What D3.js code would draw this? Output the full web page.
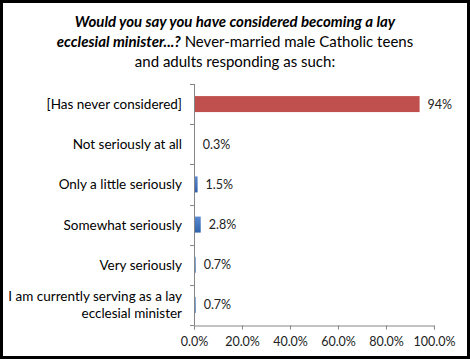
<!DOCTYPE html>
<html><head><meta charset="utf-8">
<script src="https://cdn.jsdelivr.net/npm/d3@7"></script>
<style>body{margin:0;background:#fff}svg{display:block}</style>
</head><body><svg id="c" width="470" height="360"></svg>
<script>
const categories = ["[Has never considered]","Not seriously at all","Only a little seriously","Somewhat seriously","Very seriously","I am currently serving as a lay|ecclesial minister"];
const values = [94, 0.3, 1.5, 2.8, 0.7, 0.7];
const valueLabels = ["94%","0.3%","1.5%","2.8%","0.7%","0.7%"];
const tickValues = [0,20,40,60,80,100];
const colors = ["#C0504D","#3F73BA","#3F73BA","#3F73BA","#3F73BA","#3F73BA"];

const svg = d3.select("#c");
const font = "Lato, 'Open Sans', sans-serif";
svg.append("rect").attr("x",1.5).attr("y",1.5).attr("width",467).attr("height",356)
  .attr("fill","#fff").attr("stroke","#000").attr("stroke-width",3);

const title = svg.append("text").attr("font-family",font).attr("font-size",15).attr("text-anchor","middle").attr("fill","#000");
title.append("tspan").attr("x",235).attr("y",27).attr("font-weight","bold").attr("font-style","italic").text("Would you say you have considered becoming a lay");
const t2 = title.append("tspan").attr("x",235).attr("y",47);
t2.append("tspan").attr("font-weight","bold").attr("font-style","italic").text("ecclesial minister...?");
t2.append("tspan").text(" Never-married male Catholic teens");
title.append("tspan").attr("x",235).attr("y",67).text("and adults responding as such:");

const x = d3.scaleLinear().domain([0,100]).range([194,434]);
const y = d3.scaleBand().domain(categories).range([84,325]).paddingInner(0.6).paddingOuter(0.3);
const band = d3.scaleBand().domain(categories).range([84,325]);

const grad = svg.append("defs").append("linearGradient").attr("id","bg").attr("x1",0).attr("x2",0).attr("y1",0).attr("y2",1);
grad.append("stop").attr("offset","0%").attr("stop-color","#5A8AD0");
grad.append("stop").attr("offset","100%").attr("stop-color","#2F62AC");

svg.selectAll("rect.bar").data(values).enter().append("rect").attr("class","bar")
  .attr("x",x(0)).attr("y",(d,i)=>band(categories[i])+band.bandwidth()/2-8)
  .attr("width",d=>x(d)-x(0)).attr("height",16)
  .attr("fill",(d,i)=>i===0?colors[0]:"url(#bg)");

svg.selectAll("text.val").data(values).enter().append("text").attr("class","val")
  .attr("x",d=>x(d)+8).attr("y",(d,i)=>band(categories[i])+band.bandwidth()/2+4.5)
  .attr("font-family",font).attr("font-size",12.5).attr("fill","#222")
  .text((d,i)=>valueLabels[i]);

// y axis
const ax = svg.append("g");
ax.append("line").attr("x1",194.5).attr("x2",194.5).attr("y1",84).attr("y2",325).attr("stroke","#868686");
const yTicks = d3.range(categories.length+1).map(i=>84+i*band.step());
ax.selectAll("line.yt").data(yTicks).enter().append("line").attr("class","yt")
  .attr("x1",190).attr("x2",194.5).attr("y1",d=>Math.round(d)+0.5).attr("y2",d=>Math.round(d)+0.5).attr("stroke","#868686");

// category labels
categories.forEach((c,i)=>{
  const parts = c.split("|");
  const cy = band(c)+band.bandwidth()/2;
  const t = svg.append("text").attr("font-family",font).attr("font-size",13.5).attr("text-anchor","end").attr("fill","#000");
  parts.forEach((p,j)=>{
    t.append("tspan").attr("x",182).attr("y",cy+5+(j-(parts.length-1)/2)*17).text(p);
  });
});

// x axis
const xa = svg.append("g").attr("transform","translate(0,325.5)")
  .call(d3.axisBottom(x).tickValues(tickValues).tickSize(4).tickPadding(8).tickFormat(d=>d.toFixed(1)+"%"));
xa.select(".domain").attr("stroke","#868686");
xa.selectAll(".tick line").attr("stroke","#868686");
xa.selectAll("text").attr("font-family",font).attr("font-size",12.5).attr("fill","#222");
</script></body></html>
